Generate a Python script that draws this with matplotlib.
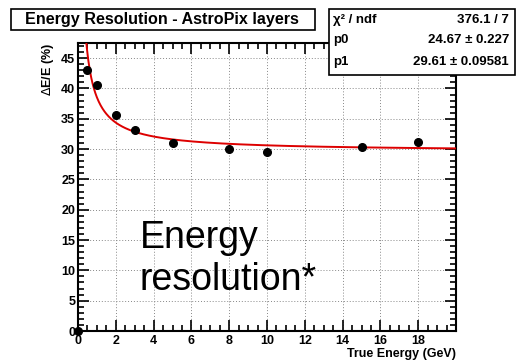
import matplotlib
matplotlib.use('Agg')
import matplotlib.pyplot as plt
import numpy as np
from matplotlib.patches import Rectangle
from matplotlib.ticker import MultipleLocator

plt.rcParams['font.family'] = ['Liberation Sans', 'DejaVu Sans']

# measured points
energy = [0, 0.5, 1, 2, 3, 5, 8, 10, 15, 18]
resolution = [0, 43.0, 40.6, 35.7, 33.1, 31.0, 30.0, 29.5, 30.4, 31.2]

# fit parameters from the stats box
p0 = 24.67
p1 = 29.61
stats_rows = [
    ('χ² / ndf', '376.1 / 7'),
    ('p0', '24.67 ± 0.227'),
    ('p1', '29.61 ± 0.09581'),
]

W, H = 516, 361


def fx(px):
    return px / W


def fy(py):
    return (H - py) / H


def root_ticks(ax):
    ax.xaxis.set_major_locator(MultipleLocator(2))
    ax.xaxis.set_minor_locator(MultipleLocator(0.5))
    ax.yaxis.set_major_locator(MultipleLocator(5))
    ax.yaxis.set_minor_locator(MultipleLocator(1))
    ax.tick_params(which='both', direction='in', top=True, right=True,
                   width=1.2, labelsize=9)
    ax.tick_params(which='major', length=8)
    ax.tick_params(which='minor', length=4)
    ax.tick_params(axis='x', pad=3)
    ax.tick_params(axis='y', pad=2)
    for lab in ax.get_xticklabels() + ax.get_yticklabels():
        lab.set_fontweight('bold')
    ax.grid(which='major', color='#888888', ls=(0, (1, 2)), lw=0.7)
    for s in ax.spines.values():
        s.set_linewidth(1.5)


def main():
    fig = plt.figure(figsize=(W / 100, H / 100), dpi=100)
    ax = fig.add_axes([fx(78), fy(331), fx(456) - fx(78), fy(43) - fy(331)])

    e = np.linspace(0.05, 20, 800)
    fit = np.sqrt((p0 / np.sqrt(e)) ** 2 + p1 ** 2)
    ax.plot(e, fit, color='#dd0000', lw=1.4, zorder=3)
    ax.plot(energy, resolution, 'o', color='black', ms=5.5, zorder=4,
            clip_on=False)

    ax.set_xlim(0, 20)
    ax.set_ylim(0, 47.5)
    xt = np.arange(0, 20, 2)
    ax.set_xticks(xt)
    ax.set_xticklabels([str(v) for v in xt])
    root_ticks(ax)

    ax.set_xlabel('True Energy (GeV)', fontsize=9, fontweight='bold',
                  loc='right', labelpad=0.5)
    ax.set_ylabel(r'$\Delta$E/E (%)', fontsize=9, fontweight='bold',
                  loc='top', labelpad=4)

    fig.text(fx(140), fy(290), 'Energy\nresolution*', fontsize=27,
             ha='left', va='baseline', linespacing=1.2)

    # title box
    fig.add_artist(Rectangle((fx(11), fy(30)), fx(315) - fx(11),
                             fy(9) - fy(30), transform=fig.transFigure,
                             facecolor='white', edgecolor='black', lw=1.2,
                             zorder=5))
    fig.text(fx(162), fy(19.5), 'Energy Resolution - AstroPix layers',
             fontsize=11.6, fontweight='bold', ha='center', va='center',
             zorder=6)

    # stats box
    fig.add_artist(Rectangle((fx(329), fy(75)), fx(515) - fx(329),
                             fy(9) - fy(75), transform=fig.transFigure,
                             facecolor='white', edgecolor='black', lw=1.2,
                             zorder=5))
    for (name, val), y in zip(stats_rows, [20, 40, 62]):
        fig.text(fx(333), fy(y), name, fontsize=9.5, fontweight='bold',
                 ha='left', va='center', zorder=6)
        fig.text(fx(509), fy(y), val, fontsize=9.5, fontweight='bold',
                 ha='right', va='center', zorder=6)

    fig.savefig('out.png', dpi=100)


if __name__ == '__main__':
    main()
